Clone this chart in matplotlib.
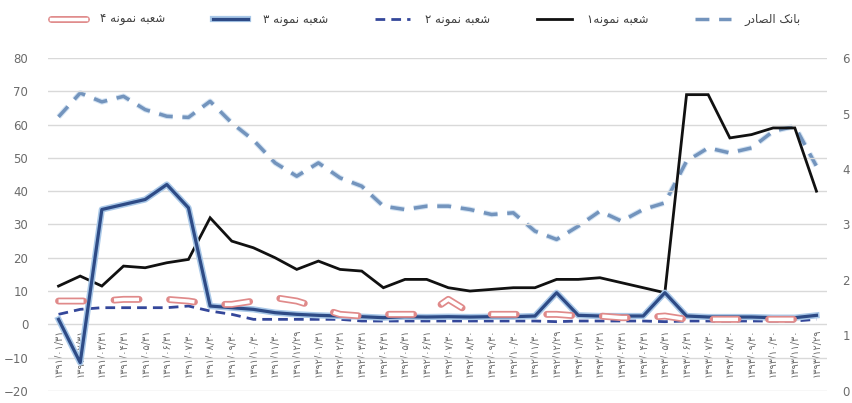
import matplotlib
matplotlib.use('Agg')
import matplotlib.pyplot as plt
from matplotlib.lines import Line2D

# tick labels (Persian dates, end of each month)
dates = [
    '۱۳۹۱/۰۱/۳۱', '۱۳۹۱/۰۲/۳۱', '۱۳۹۱/۰۳/۳۱', '۱۳۹۱/۰۴/۳۱', '۱۳۹۱/۰۵/۳۱', '۱۳۹۱/۰۶/۳۱',
    '۱۳۹۱/۰۷/۳۰', '۱۳۹۱/۰۸/۳۰', '۱۳۹۱/۰۹/۳۰', '۱۳۹۱/۱۰/۳۰', '۱۳۹۱/۱۱/۳۰', '۱۳۹۱/۱۲/۲۹',
    '۱۳۹۲/۰۱/۳۱', '۱۳۹۲/۰۲/۳۱', '۱۳۹۲/۰۳/۳۱', '۱۳۹۲/۰۴/۳۱', '۱۳۹۲/۰۵/۳۱', '۱۳۹۲/۰۶/۳۱',
    '۱۳۹۲/۰۷/۳۰', '۱۳۹۲/۰۸/۳۰', '۱۳۹۲/۰۹/۳۰', '۱۳۹۲/۱۰/۳۰', '۱۳۹۲/۱۱/۳۰', '۱۳۹۲/۱۲/۲۹',
    '۱۳۹۳/۰۱/۳۱', '۱۳۹۳/۰۲/۳۱', '۱۳۹۳/۰۳/۳۱', '۱۳۹۳/۰۴/۳۱', '۱۳۹۳/۰۵/۳۱', '۱۳۹۳/۰۶/۳۱',
    '۱۳۹۳/۰۷/۳۰', '۱۳۹۳/۰۸/۳۰', '۱۳۹۳/۰۹/۳۰', '۱۳۹۳/۱۰/۳۰', '۱۳۹۳/۱۱/۳۰', '۱۳۹۳/۱۲/۲۹',
]

# left axis series
branch1 = [11.5, 14.5, 11.5, 17.5, 17, 18.5, 19.5, 32, 25, 23, 20, 16.5,
           19, 16.5, 16, 11, 13.5, 13.5, 11, 10, 10.5, 11, 11, 13.5,
           13.5, 14, 12.5, 11, 9.5, 69, 69, 56, 57, 59, 59, 40]
branch2 = [3, 4.5, 5, 5, 5, 5, 5.5, 4, 3, 1.5, 1.5, 1.5,
           1.5, 1.5, 1, 1, 1, 1, 1, 1, 1, 1, 1, 0.8,
           1, 1, 1, 1, 0.8, 1, 1, 1, 1, 1, 1, 1.5]
branch3 = [1.5, -11.5, 34.5, 36, 37.5, 42, 35, 5.5, 5, 4.5, 3.5, 3,
           2.7, 2.5, 2.3, 2, 2.3, 2.2, 2.3, 2.2, 2.3, 2.3, 2.5, 9.5,
           2.7, 2.5, 2.5, 2.5, 9.5, 2.5, 2.2, 2.2, 2.2, 2, 2, 2.7]
branch4 = [7, 7, 7, 7.5, 7.5, 7.5, 7, 6, 6, 7, 8, 7,
           5, 3, 2.5, 3, 3, 3, 7.5, 3.5, 3, 3, 3, 3,
           2.5, 2.5, 2, 2, 2.5, 1.5, 1.5, 1.5, 1.5, 1.5, 1.5, 1.5]
# right axis series
bank = [4.94, 5.37, 5.21, 5.31, 5.07, 4.95, 4.93, 5.22, 4.83, 4.52, 4.11, 3.87,
        4.11, 3.84, 3.69, 3.33, 3.27, 3.33, 3.33, 3.27, 3.18, 3.21, 2.88, 2.73,
        2.97, 3.24, 3.06, 3.27, 3.39, 4.14, 4.38, 4.29, 4.38, 4.68, 4.77, 4.05]

yticks_left = [-20, -10, 0, 10, 20, 30, 40, 50, 60, 70, 80]
yticks_right = [0, 1, 2, 3, 4, 5, 6]

# minimal arabic shaping (matplotlib has no bidi / joining)
FORMS = {  # isolated, final, initial, medial
    'ا': ('\uFE8D', '\uFE8E', None, None),
    'ب': ('\uFE8F', '\uFE90', '\uFE91', '\uFE92'),
    'د': ('\uFEA9', '\uFEAA', None, None),
    'ر': ('\uFEAD', '\uFEAE', None, None),
    'ش': ('\uFEB5', '\uFEB6', '\uFEB7', '\uFEB8'),
    'ص': ('\uFEB9', '\uFEBA', '\uFEBB', '\uFEBC'),
    'ع': ('\uFEC9', '\uFECA', '\uFECB', '\uFECC'),
    'ک': ('\uFB8E', '\uFB8F', '\uFB90', '\uFB91'),
    'ل': ('\uFEDD', '\uFEDE', '\uFEDF', '\uFEE0'),
    'م': ('\uFEE1', '\uFEE2', '\uFEE3', '\uFEE4'),
    'ن': ('\uFEE5', '\uFEE6', '\uFEE7', '\uFEE8'),
    'ه': ('\uFEE9', '\uFEEA', '\uFEEB', '\uFEEC'),
    'و': ('\uFEED', '\uFEEE', None, None),
}


def fa(s):
    out = []
    for i, c in enumerate(s):
        if c not in FORMS:
            out.append(c)
            continue
        prev = s[i - 1] if i > 0 else ''
        nxt = s[i + 1] if i + 1 < len(s) else ''
        join_prev = prev in FORMS and FORMS[prev][2] is not None
        join_next = nxt in FORMS and FORMS[c][2] is not None
        if join_prev and join_next:
            out.append(FORMS[c][3])
        elif join_prev:
            out.append(FORMS[c][1])
        elif join_next:
            out.append(FORMS[c][2])
        else:
            out.append(FORMS[c][0])
    return ''.join(reversed(out))


names = [fa('شعبه نمونه ۴'), fa('شعبه نمونه ۳'), fa('شعبه نمونه ۲'),
         fa('شعبه نمونه۱'), fa('بانک الصادر')]

plt.rcParams['font.family'] = ['DejaVu Sans']

fig = plt.figure(figsize=(8.52, 4.03), dpi=100)
ax = fig.add_axes([0.056, 0.03, 0.915, 0.826])
ax2 = ax.twinx()
x = list(range(len(dates)))

ax.set_ylim(-20, 80)
ax.set_yticks(yticks_left)
ax.yaxis.grid(True, color='#d9d9d9', lw=1)
ax.set_axisbelow(True)
ax2.set_ylim(0, 6)
ax2.set_yticks(yticks_right)
ax.set_xlim(-0.5, len(dates) - 0.5)

for a in (ax, ax2):
    for s in a.spines.values():
        s.set_visible(False)
ax.tick_params(axis='y', length=0, labelsize=8.5, labelcolor='#6b6b6b', pad=14)
ax2.tick_params(axis='y', length=0, labelsize=8.5, labelcolor='#6b6b6b', pad=11)

# category labels sit next to the zero line, like excel
ax.spines['bottom'].set_position(('data', 0))
ax.set_xticks(x)
ax.set_xticklabels(dates, rotation=90, fontsize=7, color='#6b6b6b')
ax.tick_params(axis='x', length=0, pad=3)

# draw order: bank (right axis) behind, others on top
ax2.set_zorder(0)
ax.set_zorder(1)
ax.patch.set_visible(False)

ax2.plot(x, bank, color='#d3e3f3', lw=4, dashes=(10 / 4, 7 / 4))
ax2.plot(x, bank, color='#7394bd', lw=2.5, dashes=(10 / 2.5, 7 / 2.5))

ax.plot(x, branch1, color='#111111', lw=2, solid_joinstyle='miter')
ax.plot(x, branch2, color='#34479a', lw=2, dashes=(3.5, 2.2))
ax.plot(x, branch3, color='#a9c8e8', lw=4.5)
ax.plot(x, branch3, color='#2e4b86', lw=2.3)
ax.plot(x, branch4, color='#e08a8a', lw=5, dashes=(3.6, 4.4), dash_capstyle='round')
ax.plot(x, branch4, color='white', lw=2.5, dashes=(7.2, 8.8))

handles = [
    (Line2D([], [], color='#e08a8a', lw=5, solid_capstyle='round'),
     Line2D([], [], color='white', lw=2.5)),
    (Line2D([], [], color='#a9c8e8', lw=4.5), Line2D([], [], color='#2e4b86', lw=2.3)),
    Line2D([], [], color='#34479a', lw=2, dashes=(3.5, 2.2)),
    Line2D([], [], color='#111111', lw=2),
    Line2D([], [], color='#7394bd', lw=2.5, dashes=(4, 2.8)),
]
fig.legend(handles, names, loc='upper center', bbox_to_anchor=(0.5, 0.995), ncol=5,
           frameon=False, fontsize=8.5, labelcolor='#404040', handlelength=3,
           columnspacing=4, handletextpad=1.2)

fig.savefig('out.png', dpi=100)
